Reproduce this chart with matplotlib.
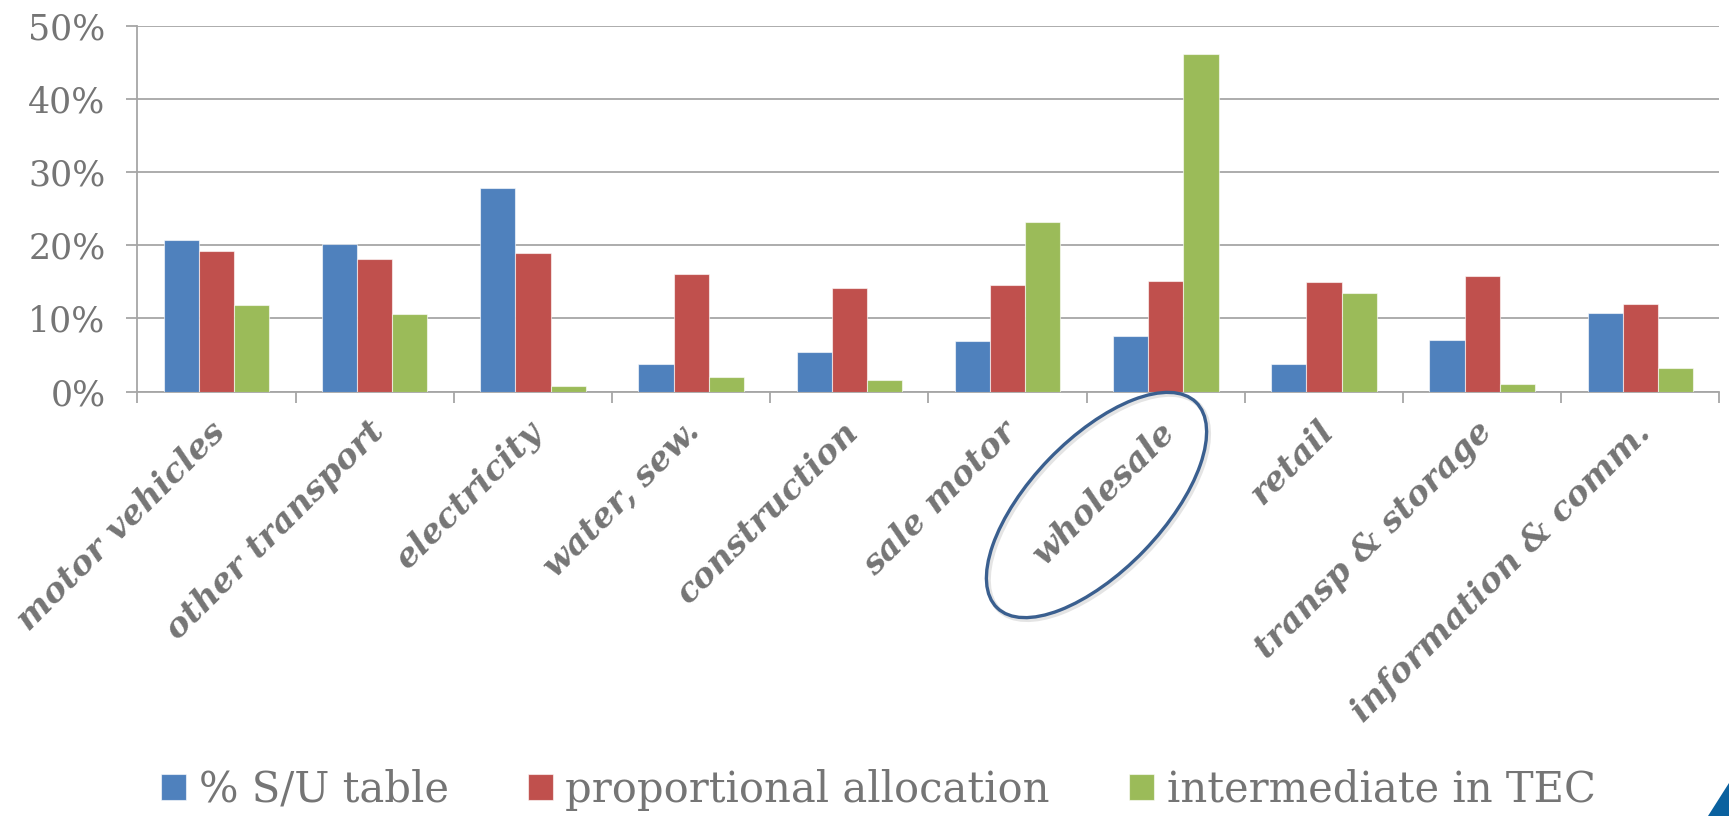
import numpy as np
import matplotlib.pyplot as plt
from matplotlib.patches import Ellipse, Polygon
from matplotlib.ticker import PercentFormatter, MultipleLocator
from matplotlib.transforms import ScaledTranslation

sectors = ["motor vehicles", "other transport", "electricity", "water, sew.",
           "construction", "sale motor", "wholesale", "retail",
           "transp & storage", "information & comm."]
su_table = [20.7, 20.1, 27.8, 3.8, 5.4, 6.9, 7.6, 3.8, 7.1, 10.7]
proportional = [19.2, 18.1, 18.9, 16.1, 14.2, 14.5, 15.1, 14.9, 15.8, 11.9]
intermediate = [11.8, 10.6, 0.8, 2.0, 1.6, 23.1, 46.1, 13.5, 1.0, 3.2]
series_names = ["% S/U table", "proportional allocation", "intermediate in TEC"]
colors = ["#4F81BD", "#C0504D", "#9BBB59"]

text_grey = "#757575"
line_grey = "#A6A6A6"
plt.rcParams["font.family"] = ["DejaVu Serif"]

fig = plt.figure(figsize=(17.29, 8.16), dpi=100)
ax = fig.add_axes([0.0795, 0.5202, 0.915, 0.4484])

x = np.arange(len(sectors))
w = 1 / 4.5  # gap width 150%
bars = []
for i, (vals, c) in enumerate(zip([su_table, proportional, intermediate], colors)):
    b = ax.bar(x + (i - 1) * w, vals, width=w, color=c,
               edgecolor=(1, 1, 1, 0.6), linewidth=0.8, zorder=3)
    bars.append(b)

ax.set_xlim(-0.5, len(sectors) - 0.5)
ax.set_ylim(0, 50)
ax.yaxis.set_major_locator(MultipleLocator(10))
ax.yaxis.set_major_formatter(PercentFormatter(100, decimals=0))
ax.grid(axis="y", color=line_grey, linewidth=1.3)
ax.set_axisbelow(True)

for s in ["top", "right"]:
    ax.spines[s].set_visible(False)
for s in ["left", "bottom"]:
    ax.spines[s].set_color(line_grey)
    ax.spines[s].set_linewidth(1.3)

# ticks between categories, no labels on them
ax.set_xticks(np.arange(len(sectors) + 1) - 0.5)
ax.set_xticklabels([])
ax.tick_params(axis="x", length=8, width=1.3, color=line_grey)
ax.tick_params(axis="y", length=8, width=1.3, color=line_grey, pad=15,
               labelsize=25, labelcolor=text_grey)

# slanted category names hanging under each group
for xi, name in zip(x, sectors):
    off = ScaledTranslation(0.11, -0.42, fig.dpi_scale_trans)
    ax.text(xi, 0, name, transform=ax.get_xaxis_transform() + off,
            rotation=45, rotation_mode="anchor", ha="right", va="baseline",
            fontsize=24.5, fontweight="bold", fontstyle="italic", color=text_grey)

fig.legend(bars, series_names, loc="center", bbox_to_anchor=(0.508, 0.032),
           ncol=3, frameon=False, fontsize=30, labelcolor=text_grey,
           handlelength=0.6, handleheight=0.6, handletextpad=0.3,
           columnspacing=1.9)

# highlight around the wholesale label
fig.add_artist(Ellipse((10.985, 3.09), 2.86, 1.32, angle=46,
                       transform=fig.dpi_scale_trans, fill=False,
                       edgecolor="#E4E4E4", linewidth=3.5))
fig.add_artist(Ellipse((10.965, 3.11), 2.86, 1.32, angle=46,
                       transform=fig.dpi_scale_trans, fill=False,
                       edgecolor="#3A5F8F", linewidth=2.4))

# corner accent
fig.add_artist(Polygon([(17.08, 0), (17.29, 0.33), (17.29, 0)],
                       transform=fig.dpi_scale_trans, color="#0A619F",
                       linewidth=0))

fig.savefig("out.png", dpi=100)
